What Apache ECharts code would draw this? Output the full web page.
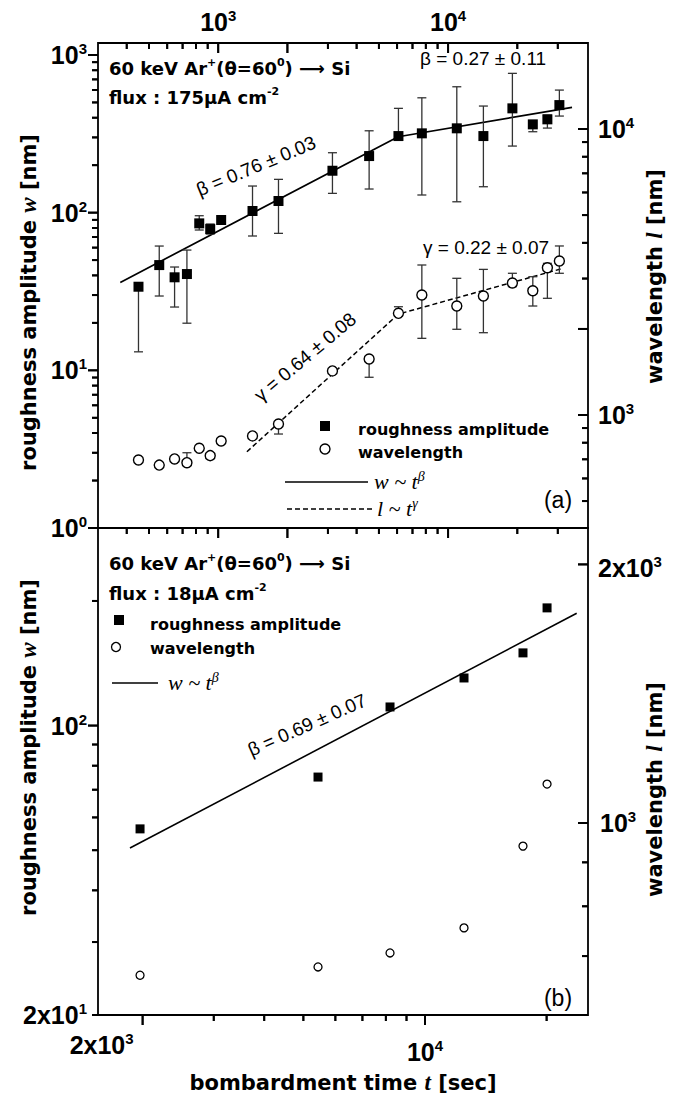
<!DOCTYPE html>
<html><head><meta charset="utf-8">
<script src="https://cdn.jsdelivr.net/npm/echarts@6/dist/echarts.min.js"></script>
<style>html,body{margin:0;padding:0;background:#fff}#chart{width:692px;height:1102px}</style>
</head><body><div id="chart"></div>
<script>
// ===== Panel (a): flux 175 uA cm^-2 =====
const tA   = [450, 554, 646, 731, 827, 923, 1030, 1410, 1829, 3140, 4534, 6081, 7688, 10910, 14240, 19040, 23360, 27030, 30480];
const wA   = [33.9, 46.5, 38.9, 40.8, 85.5, 78.7, 89.8, 102.4, 118.5, 184.4, 228.5, 306, 318.4, 342.6, 306, 458.6, 363, 390.6, 481];
const wAHi = [33.9, 61.4, 45.2, 57.9, 95.6, 84.7, 89.8, 147.5, 162.6, 239.9, 330.5, 458.6, 535, 628.6, 474.3, 764.5, 363, 415.6, 598.8];
const wALo = [13.1, 29.6, 25.2, 19.9, 77.6, 73.2, 89.8, 71.1, 73.9, 132.5, 141.2, 290, 129.4, 117.2, 146, 264.4, 326, 343.8, 409.8];
const lA   = [696, 668, 702, 681, 765, 721, 811, 845, 930, 1426, 1570, 2268, 2628, 2405, 2607, 2894, 2720, 3273, 3455];
const lAHi = [696, 668, 702, 738, 765, 721, 811, 845, 930, 1426, 1570, 2391, 3346, 3006, 3230, 3130, 3045, 3391, 3900];
const lALo = [696, 668, 702, 681, 765, 721, 811, 845, 858, 1426, 1355, 2215, 1854, 1994, 1940, 2810, 2405, 2559, 3130];
const betaFitA_t  = [375, 6067, 34600];
const betaFitA_w  = [36.1, 303, 465];
const gammaFitA_t = [1333, 6081, 31720];
const gammaFitA_l = [744, 2254, 3260];

// ===== Panel (b): flux 18 uA cm^-2 =====
const tB = [1971, 5435, 8193, 12490, 17480, 20050];
const wB = [56.3, 75.1, 110.9, 130.3, 149.8, 192.4];
const lB = [665, 680, 706, 755, 940, 1110];
const betaFitB_t = [1861, 23740];
const betaFitB_w = [50.6, 186.7];

// ===== tick values =====
const xTicksA      = [400, 500, 600, 700, 800, 900, 1000, 2000, 3000, 4000, 5000, 6000, 7000, 8000, 9000, 10000, 20000, 30000];
const yLeftTicksA  = [1, 2, 3, 4, 5, 6, 7, 8, 9, 10, 20, 30, 40, 50, 60, 70, 80, 90, 100, 200, 300, 400, 500, 600, 700, 800, 900, 1000];
const yRightTicksA = [500, 600, 700, 800, 900, 1000, 2000, 3000, 4000, 5000, 6000, 7000, 8000, 9000, 10000];
const xTicksB      = [2000, 3000, 4000, 5000, 6000, 7000, 8000, 9000, 10000, 20000];
const yLeftTicksB  = [20, 30, 40, 50, 60, 70, 80, 90, 100, 200];
const yRightTicksB = [700, 800, 900, 1000, 2000];
const majorTicks   = [1, 10, 100, 1000, 10000, 2000];
const xLabelExtraB = [2000];
const yRightLabelExtraB = [2000];

const FAX = 'Liberation Sans';
const FTX = 'DejaVu Sans';
const FSERIF = 'Liberation Serif';

function powLabel(v) {
  const lg = Math.log10(v);
  const e = Math.round(lg);
  if (Math.abs(lg - e) < 1e-4) return '{b|10}{s|' + e + '}';
  const f = Math.floor(lg + 1e-9);
  const m = v / Math.pow(10, f);
  if (Math.abs(m - Math.round(m)) < 0.01) return '{b|' + Math.round(m) + 'x10}{s|' + f + '}';
  return '';
}
const axRich = {
  b: {fontFamily: FAX, fontWeight: 'bold', fontSize: 25, lineHeight: 28, color: '#000'},
  s: {fontFamily: FAX, fontWeight: 'bold', fontSize: 15, lineHeight: 15, verticalAlign: 'top', color: '#000'}
};
const axRichZ = {
  b: {fontFamily: FAX, fontWeight: 'bold', fontSize: 25, lineHeight: 28, fill: '#000'},
  s: {fontFamily: FAX, fontWeight: 'bold', fontSize: 15, lineHeight: 15, verticalAlign: 'top', fill: '#000'}
};
function axisLabelCfg(margin, showMin) {
  return {formatter: powLabel, rich: axRich, margin: margin, showMinLabel: showMin, showMaxLabel: false};
}
function nameStyle(pad) {
  return {fontFamily: FTX, fontWeight: 'bold', fontSize: 21, color: '#000', padding: pad,
    rich: {i: {fontFamily: FSERIF, fontStyle: 'italic', fontWeight: 'bold', fontSize: 23, color: '#000'}}};
}
const hidden = {axisLine: {show: false}, axisTick: {show: false}, splitLine: {show: false}};
const TICK_W = 1.9, TICK_MAJ = 10, TICK_MIN = 6;

// ticks: one custom item per axis side, tick values mapped through the axis scale
function tickSeries(vals, dim, side, inward, xIdx, yIdx, refX, refY) {
  return {
    type: 'custom', coordinateSystem: 'cartesian2d', xAxisIndex: xIdx, yAxisIndex: yIdx,
    clip: false, z: 8, data: [[refX, refY]],
    renderItem: function (params, api) {
      const cs = params.coordSys;
      const ch = [];
      for (let i = 0; i < vals.length; i++) {
        const v = vals[i];
        const len = majorTicks.indexOf(v) >= 0 ? TICK_MAJ : TICK_MIN;
        if (dim === 'x') {
          const px = api.coord([v, refY])[0];
          const y0 = side === 'top' ? cs.y : cs.y + cs.height;
          const d = side === 'top' ? (inward ? 1 : -1) : (inward ? -1 : 1);
          ch.push({type: 'line', shape: {x1: px, y1: y0, x2: px, y2: y0 + d * len}, style: {stroke: '#000', lineWidth: TICK_W}});
        } else {
          const py = api.coord([refX, v])[1];
          const x0 = side === 'left' ? cs.x : cs.x + cs.width;
          const d = side === 'left' ? (inward ? 1 : -1) : (inward ? -1 : 1);
          ch.push({type: 'line', shape: {x1: x0, y1: py, x2: x0 + d * len, y2: py}, style: {stroke: '#000', lineWidth: TICK_W}});
        }
      }
      return {type: 'group', children: ch};
    }
  };
}

function extraLabelSeries(vals, dim, xIdx, yIdx, ref, dx, dy, align, vAlign) {
  return {
    type: 'custom', coordinateSystem: 'cartesian2d', xAxisIndex: xIdx, yAxisIndex: yIdx,
    silent: true, clip: false, z: 6,
    data: vals.map(v => dim === 'x' ? [v, ref] : [ref, v]),
    renderItem: function (params, api) {
      const cs = params.coordSys;
      const v = api.value(dim === 'x' ? 0 : 1);
      const p = api.coord([api.value(0), api.value(1)]);
      let x, y;
      if (dim === 'x') { x = p[0] + dx; y = cs.y + cs.height + dy; }
      else { x = cs.x + cs.width + dx; y = p[1] + dy; }
      return {type: 'text', x: x, y: y, style: {text: powLabel(v), rich: axRichZ, align: align, verticalAlign: vAlign}};
    }
  };
}

function errSeries(t, v, lo, hi, xIdx, yIdx) {
  return {
    type: 'custom', coordinateSystem: 'cartesian2d', xAxisIndex: xIdx, yAxisIndex: yIdx,
    silent: true, clip: false, z: 7,
    data: t.map((x, i) => [x, v[i], lo[i], hi[i]]),
    encode: {x: 0, y: [1, 2, 3]},
    renderItem: function (params, api) {
      const x = api.value(0);
      const pv = api.coord([x, api.value(1)]);
      const pl = api.coord([x, api.value(2)]);
      const ph = api.coord([x, api.value(3)]);
      const cap = 4.5, st = {stroke: '#333', lineWidth: 1.3};
      const ch = [];
      [ph, pl].forEach(function (pe) {
        if (Math.abs(pe[1] - pv[1]) > 1.5) {
          ch.push({type: 'line', shape: {x1: pv[0], y1: pv[1], x2: pe[0], y2: pe[1]}, style: st});
          ch.push({type: 'line', shape: {x1: pe[0] - cap, y1: pe[1], x2: pe[0] + cap, y2: pe[1]}, style: st});
        }
      });
      return {type: 'group', children: ch};
    }
  };
}

function pairs(a, b) { return a.map((x, i) => [x, b[i]]); }

// ===== graphic texts / legend =====
const g = [];
const supRich = {
  t: {fontFamily: FTX, fontWeight: 'bold', fontSize: 18, lineHeight: 22, fill: '#000'},
  s: {fontFamily: FTX, fontWeight: 'bold', fontSize: 11, lineHeight: 11, verticalAlign: 'top', fill: '#000'}
};
const mathRich = {
  m: {fontFamily: FSERIF, fontStyle: 'italic', fontSize: 22, lineHeight: 24, fill: '#000'},
  q: {fontFamily: FSERIF, fontStyle: 'italic', fontSize: 14, lineHeight: 12, verticalAlign: 'top', fill: '#000'}
};
function T(x, y, text, style, rot, align) {
  g.push({type: 'text', x: x, y: y, rotation: rot || 0, silent: true, z: 50,
    style: Object.assign({text: text, align: align || 'left', verticalAlign: 'middle', fill: '#000'}, style)});
}
const plain = {fontFamily: FAX, fontSize: 19, fill: '#000'};
const legTxt = {fontFamily: FTX, fontWeight: 'bold', fontSize: 16, fill: '#000'};
const deg = Math.PI / 180;

// panel a
T(109, 68, '{t|60 keV Ar}{s|+}{t|(θ=60}{s|0}{t|) ⟶ Si}', {rich: supRich});
T(109, 97, '{t|flux : 175μA cm}{s|-2}', {rich: supRich});
T(420, 58, 'β = 0.27 ± 0.11', plain);
T(423, 247, 'γ = 0.22 ± 0.07', plain);
T(256, 166, 'β = 0.76 ± 0.03', Object.assign({}, plain), 22.6 * deg, 'center');
T(305, 357, 'γ = 0.64 ± 0.08', Object.assign({}, plain), 40 * deg, 'center');
T(558, 500, '(a)', {fontFamily: FAX, fontSize: 23, fill: '#000'}, 0, 'center');
g.push({type: 'rect', shape: {x: 320, y: 421, width: 10, height: 10}, style: {fill: '#000'}, silent: true, z: 50});
g.push({type: 'circle', shape: {cx: 325, cy: 449, r: 5}, style: {fill: '#fff', stroke: '#000', lineWidth: 1.4}, silent: true, z: 50});
T(358, 429, 'roughness amplitude', legTxt);
T(358, 452, 'wavelength', legTxt);
g.push({type: 'line', shape: {x1: 285, y1: 482, x2: 368, y2: 482}, style: {stroke: '#000', lineWidth: 1.6}, silent: true, z: 50});
T(374, 481, '{m|w ~ t}{q|β}', {rich: mathRich});
g.push({type: 'line', shape: {x1: 287, y1: 509, x2: 375, y2: 509}, style: {stroke: '#000', lineWidth: 1.6, lineDash: [5, 3]}, silent: true, z: 50});
T(377, 508, '{m|l ~ t}{q|γ}', {rich: mathRich});

// panel b
T(109, 563, '{t|60 keV Ar}{s|+}{t|(θ=60}{s|0}{t|) ⟶ Si}', {rich: supRich});
T(109, 593, '{t|flux : 18μA cm}{s|-2}', {rich: supRich});
g.push({type: 'rect', shape: {x: 114, y: 615, width: 10, height: 10}, style: {fill: '#000'}, silent: true, z: 50});
g.push({type: 'circle', shape: {cx: 116, cy: 647, r: 4.5}, style: {fill: '#fff', stroke: '#000', lineWidth: 1.3}, silent: true, z: 50});
T(150, 624, 'roughness amplitude', legTxt);
T(150, 648, 'wavelength', legTxt);
g.push({type: 'line', shape: {x1: 112, y1: 683, x2: 158, y2: 683}, style: {stroke: '#000', lineWidth: 1.6}, silent: true, z: 50});
T(168, 682, '{m|w ~ t}{q|β}', {rich: mathRich});
T(307, 725, 'β = 0.69 ± 0.07', Object.assign({}, plain), 23.9 * deg, 'center');
T(558, 998, '(b)', {fontFamily: FAX, fontSize: 23, fill: '#000'}, 0, 'center');

const grids = [
  {left: 98, top: 43, width: 490, height: 485, show: true, borderColor: '#000', borderWidth: 1.8, backgroundColor: 'transparent'},
  {left: 98, top: 528, width: 490, height: 487, show: true, borderColor: '#000', borderWidth: 1.8, backgroundColor: 'transparent'}
];

const option = {
  animation: false,
  backgroundColor: '#fff',
  grid: grids,
  xAxis: [
    Object.assign({gridIndex: 0, type: 'log', position: 'top', min: 300, max: 40600,
      axisLabel: axisLabelCfg(7, false)}, hidden),
    Object.assign({gridIndex: 1, type: 'log', position: 'bottom', min: 1551, max: 25320,
      axisLabel: axisLabelCfg(23, false),
      name: 'bombardment time {i|t} [sec]', nameLocation: 'middle', nameGap: 56, nameMoveOverlap: false,
      nameTextStyle: nameStyle([0, 0, 0, 0])}, hidden)
  ],
  yAxis: [
    Object.assign({gridIndex: 0, type: 'log', position: 'left', min: 1, max: 1191,
      axisLabel: axisLabelCfg(11, true),
      name: 'roughness amplitude {i|w} [nm]', nameLocation: 'middle', nameRotate: 90, nameGap: 58, nameMoveOverlap: false,
      nameTextStyle: nameStyle([0, 34, 0, 0])}, hidden),
    Object.assign({gridIndex: 0, type: 'log', position: 'right', min: 402.6, max: 19990,
      axisLabel: axisLabelCfg(10, false),
      name: 'wavelength {i|l} [nm]', nameLocation: 'middle', nameRotate: 90, nameGap: 55, nameMoveOverlap: false,
      nameTextStyle: nameStyle([0, 0, 0, 18])}, hidden),
    Object.assign({gridIndex: 1, type: 'log', position: 'left', min: 20, max: 300,
      axisLabel: axisLabelCfg(11, true),
      name: 'roughness amplitude {i|w} [nm]', nameLocation: 'middle', nameRotate: 90, nameGap: 58, nameMoveOverlap: false,
      nameTextStyle: nameStyle([0, 0, 0, 48])}, hidden),
    Object.assign({gridIndex: 1, type: 'log', position: 'right', min: 597.8, max: 2205,
      axisLabel: axisLabelCfg(12, false),
      name: 'wavelength {i|l} [nm]', nameLocation: 'middle', nameRotate: 90, nameGap: 55, nameMoveOverlap: false,
      nameTextStyle: nameStyle([0, 36, 0, 0])}, hidden)
  ],
  graphic: g,
  series: [
    // panel a
    {type: 'line', xAxisIndex: 0, yAxisIndex: 0, data: pairs(betaFitA_t, betaFitA_w), symbol: 'none', silent: true, z: 4,
      lineStyle: {color: '#000', width: 1.7}},
    {type: 'line', xAxisIndex: 0, yAxisIndex: 1, data: pairs(gammaFitA_t, gammaFitA_l), symbol: 'none', silent: true, z: 4,
      lineStyle: {color: '#000', width: 1.5, type: [5, 3]}},
    errSeries(tA, wA, wALo, wAHi, 0, 0),
    errSeries(tA, lA, lALo, lAHi, 0, 1),
    {type: 'scatter', xAxisIndex: 0, yAxisIndex: 0, data: pairs(tA, wA), symbol: 'rect', symbolSize: 10, silent: true, z: 10,
      itemStyle: {color: '#000', opacity: 1}},
    {type: 'scatter', xAxisIndex: 0, yAxisIndex: 1, data: pairs(tA, lA), symbol: 'circle', symbolSize: 10, silent: true, z: 10,
      itemStyle: {color: '#fff', borderColor: '#000', borderWidth: 1.4, opacity: 1}},
    // panel b
    {type: 'line', xAxisIndex: 1, yAxisIndex: 2, data: pairs(betaFitB_t, betaFitB_w), symbol: 'none', silent: true, z: 4,
      lineStyle: {color: '#000', width: 1.6}},
    {type: 'scatter', xAxisIndex: 1, yAxisIndex: 2, data: pairs(tB, wB), symbol: 'rect', symbolSize: 9, silent: true, z: 10,
      itemStyle: {color: '#000', opacity: 1}},
    {type: 'scatter', xAxisIndex: 1, yAxisIndex: 3, data: pairs(tB, lB), symbol: 'circle', symbolSize: 8, silent: true, z: 10,
      itemStyle: {color: '#fff', borderColor: '#000', borderWidth: 1.3, opacity: 1}},
    extraLabelSeries(xLabelExtraB, 'x', 1, 2, 100, -41, 16, 'center', 'top'),
    extraLabelSeries(yRightLabelExtraB, 'y', 1, 3, 5000, 10, 4, 'left', 'middle'),
    // ticks
    tickSeries(xTicksA, 'x', 'top', true, 0, 0, 1000, 10),
    tickSeries(xTicksA, 'x', 'bottom', false, 0, 0, 1000, 10),
    tickSeries(yLeftTicksA, 'y', 'left', false, 0, 0, 1000, 10),
    tickSeries(yRightTicksA, 'y', 'right', true, 0, 1, 1000, 1000),
    tickSeries(xTicksB, 'x', 'bottom', false, 1, 2, 5000, 100),
    tickSeries(yLeftTicksB, 'y', 'left', false, 1, 2, 5000, 100),
    tickSeries(yRightTicksB, 'y', 'right', true, 1, 3, 5000, 1000)
  ]
};

const chart = echarts.init(document.getElementById('chart'), null, {renderer: 'svg', width: 692, height: 1102});
chart.setOption(option);

// second pass: the same ticks as graphic lines, positioned via the axis scales (convertToPixel)
const tickEls = [];
function addTicks(vals, dim, xIdx, yIdx, refX, refY, gridIdx, side, inward) {
  const gr = grids[gridIdx];
  vals.forEach(function (v) {
    const p = chart.convertToPixel({xAxisIndex: xIdx, yAxisIndex: yIdx}, dim === 'x' ? [v, refY] : [refX, v]);
    if (!p) return;
    const len = majorTicks.indexOf(v) >= 0 ? TICK_MAJ : TICK_MIN;
    let shape;
    if (dim === 'x') {
      const y0 = side === 'top' ? gr.top : gr.top + gr.height;
      const d = side === 'top' ? (inward ? 1 : -1) : (inward ? -1 : 1);
      shape = {x1: p[0], y1: y0, x2: p[0], y2: y0 + d * len};
    } else {
      const x0 = side === 'left' ? gr.left : gr.left + gr.width;
      const d = side === 'left' ? (inward ? 1 : -1) : (inward ? -1 : 1);
      shape = {x1: x0, y1: p[1], x2: x0 + d * len, y2: p[1]};
    }
    tickEls.push({type: 'line', shape: shape, style: {stroke: '#000', lineWidth: TICK_W}, z: 60});
  });
}
addTicks(xTicksA, 'x', 0, 0, 1000, 10, 0, 'top', true);
addTicks(xTicksA, 'x', 0, 0, 1000, 10, 0, 'bottom', false);
addTicks(yLeftTicksA, 'y', 0, 0, 1000, 10, 0, 'left', false);
addTicks(yRightTicksA, 'y', 0, 1, 1000, 1000, 0, 'right', true);
addTicks(xTicksB, 'x', 1, 2, 5000, 100, 1, 'bottom', false);
addTicks(yLeftTicksB, 'y', 1, 2, 5000, 100, 1, 'left', false);
addTicks(yRightTicksB, 'y', 1, 3, 5000, 1000, 1, 'right', true);
chart.setOption({graphic: g.concat(tickEls)});
</script>
</body></html>
